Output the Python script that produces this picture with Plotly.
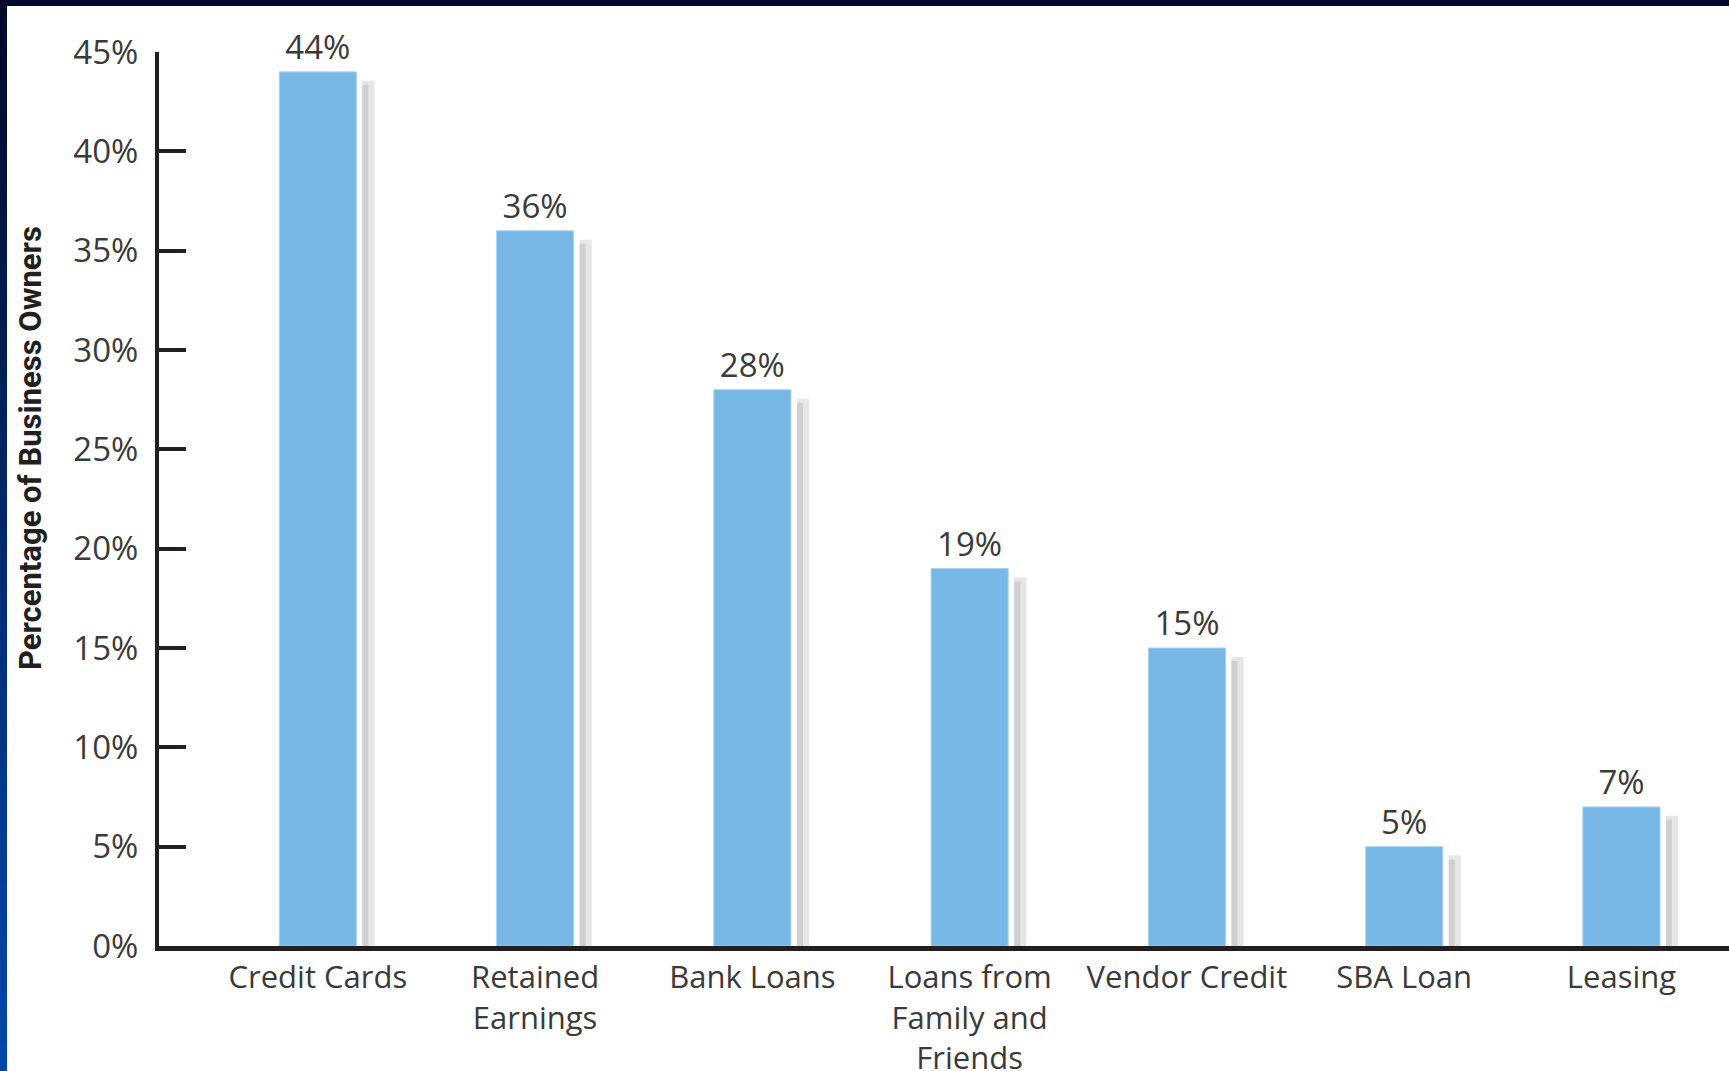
import plotly.graph_objects as go

categories = ["Credit Cards", "Retained<br>Earnings", "Bank Loans", "Loans from<br>Family and<br>Friends",
              "Vendor Credit", "SBA Loan", "Leasing"]
values = [44, 36, 28, 19, 15, 5, 7]
value_labels = [f"{v}%" for v in values]
y_tickvals = [0, 5, 10, 15, 20, 25, 30, 35, 40, 45]
y_ticktext = ["0%", "5%", "10%", "15%", "20%", "25%", "30%", "35%", "40%", "45%"]
y_title = "Percentage of Business Owners"

W, H = 1729, 1071
L, R, T, B = 159, 0, 52, 125
PW, PH = W - L - R, H - T - B

BAR = "#77B7E5"
TXT = "#3a3a3a"
AX = "#231f20"
FONT = "Open Sans"

fig = go.Figure()
# shadow (light outer)
fig.add_trace(go.Bar(x=categories, y=values, base=-0.45, offset=0.205, width=0.056,
                     marker=dict(color="#E6E6E6", line=dict(width=0)), hoverinfo="skip"))
# shadow (dark inner)
fig.add_trace(go.Bar(x=categories, y=values, base=-0.65, offset=0.205, width=0.028,
                     marker=dict(color="#D0D0D0", line=dict(width=0)), hoverinfo="skip"))
# main bars
fig.add_trace(go.Bar(x=categories, y=values, offset=-0.1775, width=0.355,
                     marker=dict(color=BAR, line=dict(width=1, color="#A9D3F1")),
                     text=value_labels, textposition="outside", cliponaxis=False,
                     textfont=dict(family=FONT, size=33, color=TXT), hoverinfo="skip"))

shapes = []
# top dark border
shapes.append(dict(type="rect", xref="paper", yref="paper",
                   x0=-L / PW, x1=1.0, y0=(H - B - 6) / PH, y1=(H - B) / PH,
                   fillcolor="#000a2a", line=dict(width=0), layer="above"))
# left gradient border
n = 40
c0 = (0x00, 0x0a, 0x2a)
c1 = (0x00, 0x48, 0xac)
for i in range(n):
    f = i / (n - 1)
    col = "rgb(%d,%d,%d)" % tuple(round(c0[k] + (c1[k] - c0[k]) * f) for k in range(3))
    ytop_px = H * i / n
    ybot_px = H * (i + 1) / n + 1
    shapes.append(dict(type="rect", xref="paper", yref="paper",
                       x0=-L / PW, x1=(7 - L) / PW,
                       y0=(H - B - ybot_px) / PH, y1=(H - B - ytop_px) / PH,
                       fillcolor=col, line=dict(width=0), layer="above"))

fig.update_layout(
    width=W, height=H,
    margin=dict(l=L, r=R, t=T, b=B, pad=0),
    barmode="overlay", showlegend=False,
    paper_bgcolor="white", plot_bgcolor="white",
    font=dict(family=FONT, size=30, color=TXT),
    shapes=shapes,
    annotations=[dict(text=y_title, xref="paper", yref="paper",
                      x=(30 - L) / PW, y=(H - B - 448) / PH, xanchor="center", yanchor="middle",
                      textangle=-90, showarrow=False,
                      font=dict(family="Roboto", size=31, color="#231f20", weight=700))],
    xaxis=dict(range=[-0.731, 6.495], showline=True, linecolor=AX, linewidth=5, ticks="",
               showgrid=False, zeroline=False, automargin=False,
               tickfont=dict(family=FONT, size=31, color=TXT)),
    yaxis=dict(range=[0, 45], tickvals=y_tickvals, ticktext=y_ticktext, showline=True,
               linecolor=AX, linewidth=4, ticks="inside", ticklen=27, tickwidth=4, tickcolor=AX,
               showgrid=False, zeroline=False, ticklabelstandoff=10, automargin=False,
               tickfont=dict(family=FONT, size=33, color=TXT)),
    hovermode=False,
)

fig.write_html("out.html", config={"displayModeBar": False},
               post_script="document.body.style.margin='0px';")
